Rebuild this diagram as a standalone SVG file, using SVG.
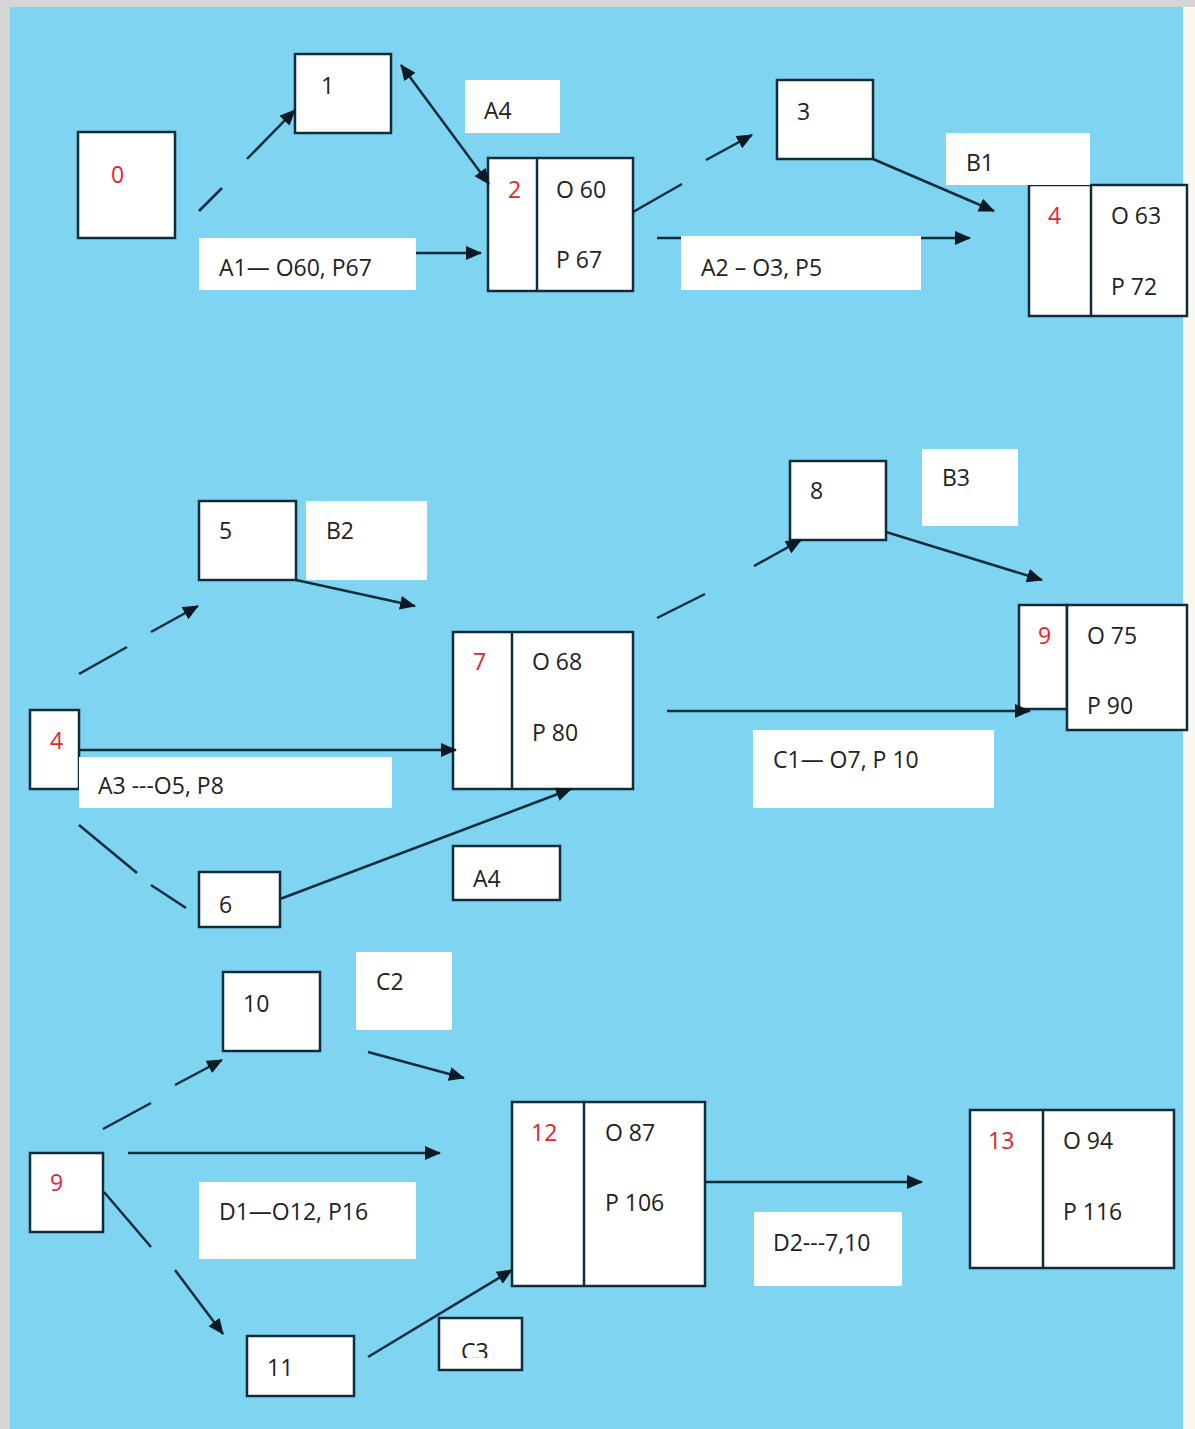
<svg xmlns="http://www.w3.org/2000/svg" width="1195" height="1429" viewBox="0 0 1195 1429">
<style>
.bg{fill:#7fd5f1}
.box{fill:#ffffff;stroke:#0e2c3b;stroke-width:2.5}
.lbl{fill:#ffffff}
.lblb{fill:#ffffff;stroke:#0e2c3b;stroke-width:2.5}
.t{font-family:"Open Sans","Liberation Sans",sans-serif;font-size:23px;fill:#222222}
.r{font-family:"Open Sans","Liberation Sans",sans-serif;font-size:23px;fill:#e8232b}
.c{fill:none;stroke:#0e2c3b;stroke-width:2.5}
</style>
<defs>
<marker id="arr" markerUnits="userSpaceOnUse" markerWidth="16" markerHeight="14" refX="15" refY="7" orient="auto-start-reverse">
<path d="M0,0 L16,7 L0,14 z" fill="#0b1a24"/>
</marker>
<clipPath id="c3clip"><rect x="430" y="1310" width="100" height="48"/></clipPath>
</defs>
<rect x="0" y="0" width="1195" height="1429" fill="#d6d6d6"/>
<rect x="1183" y="7" width="12" height="1422" fill="#fbf8ef"/>
<rect class="bg" x="10" y="7" width="1173" height="1422"/>

<g id="node-0"><rect class="box" x="78" y="132" width="97" height="106"/><text class="r" x="111" y="183">0</text></g>
<g id="node-1"><rect class="box" x="295" y="54" width="96" height="79"/><text class="t" x="321" y="94">1</text></g>
<g id="node-2"><rect class="box" x="488" y="158" width="145" height="133"/><line class="c" x1="537" y1="158" x2="537" y2="291"/><text class="r" x="508" y="198">2</text><text class="t" x="556" y="198">O 60</text><text class="t" x="556" y="268">P 67</text></g>
<g id="node-3"><rect class="box" x="777" y="80" width="96" height="79"/><text class="t" x="797" y="120">3</text></g>
<g id="node-4a"><rect class="box" x="1029" y="185" width="158" height="131"/><line class="c" x1="1091" y1="185" x2="1091" y2="316"/><text class="r" x="1048" y="224">4</text><text class="t" x="1111" y="224">O 63</text><text class="t" x="1111" y="295">P 72</text></g>

<g id="node-5"><rect class="box" x="199" y="501" width="97" height="79"/><text class="t" x="219" y="539">5</text></g>
<g id="node-4b"><rect class="box" x="30" y="710" width="49" height="79"/><text class="r" x="50" y="749">4</text></g>
<g id="node-6"><rect class="box" x="199" y="872" width="81" height="55"/><text class="t" x="219" y="913">6</text></g>
<g id="node-7"><rect class="box" x="453" y="632" width="180" height="157"/><line class="c" x1="512" y1="632" x2="512" y2="789"/><text class="r" x="473" y="670">7</text><text class="t" x="532" y="670">O 68</text><text class="t" x="532" y="741">P 80</text></g>
<g id="node-8"><rect class="box" x="790" y="461" width="96" height="79"/><text class="t" x="810" y="499">8</text></g>
<g id="node-9a"><rect class="box" x="1019" y="605" width="48" height="104"/><rect class="box" x="1067" y="605" width="120" height="125"/><text class="r" x="1038" y="644">9</text><text class="t" x="1087" y="644">O 75</text><text class="t" x="1087" y="714">P 90</text></g>

<g id="node-10"><rect class="box" x="223" y="972" width="97" height="79"/><text class="t" x="243" y="1012">10</text></g>
<g id="node-9b"><rect class="box" x="30" y="1153" width="73" height="79"/><text class="r" x="50" y="1191">9</text></g>
<g id="node-11"><rect class="box" x="247" y="1336" width="107" height="60"/><text class="t" x="267" y="1376">11</text></g>
<g id="node-12"><rect class="box" x="512" y="1102" width="193" height="184"/><line class="c" x1="584" y1="1102" x2="584" y2="1286"/><text class="r" x="531" y="1141">12</text><text class="t" x="605" y="1141">O 87</text><text class="t" x="605" y="1211">P 106</text></g>
<g id="node-13"><rect class="box" x="970" y="1110" width="204" height="158"/><line class="c" x1="1043" y1="1110" x2="1043" y2="1268"/><text class="r" x="988" y="1149">13</text><text class="t" x="1063" y="1149">O 94</text><text class="t" x="1063" y="1220">P 116</text></g>

<g id="connectors">
<path class="c" d="M199,211 L222,188 M247,159 L295,110" marker-end="url(#arr)"/>
<path class="c" d="M401,65 L489,184" marker-start="url(#arr)" marker-end="url(#arr)"/>
<path class="c" d="M416,253 L481,253" marker-end="url(#arr)"/>
<path class="c" d="M633,212 L682,184 M706,160 L752,135" marker-end="url(#arr)"/>
<path class="c" d="M657,238 L970,238" marker-end="url(#arr)"/>
<path class="c" d="M873,159 L994,211" marker-end="url(#arr)"/>
<path class="c" d="M79,674 L127,647 M151,632 L198,606" marker-end="url(#arr)"/>
<path class="c" d="M296,580 L415,606" marker-end="url(#arr)"/>
<path class="c" d="M79,750 L456,750" marker-end="url(#arr)"/>
<path class="c" d="M79,825 L137,873 M151,885 L186,908"/>
<path class="c" d="M280,899 L571,789" marker-end="url(#arr)"/>
<path class="c" d="M657,618 L705,594 M754,566 L801,540" marker-end="url(#arr)"/>
<path class="c" d="M886,532 L1042,580" marker-end="url(#arr)"/>
<path class="c" d="M667,711 L1030,711" marker-end="url(#arr)"/>
<path class="c" d="M103,1129 L151,1103 M175,1085 L222,1060" marker-end="url(#arr)"/>
<path class="c" d="M368,1052 L464,1078" marker-end="url(#arr)"/>
<path class="c" d="M128,1153 L440,1153" marker-end="url(#arr)"/>
<path class="c" d="M104,1192 L151,1247 M175,1270 L223,1334" marker-end="url(#arr)"/>
<path class="c" d="M368,1357 L512,1270" marker-end="url(#arr)"/>
<path class="c" d="M705,1182 L922,1182" marker-end="url(#arr)"/>
</g>

<g id="label-A4-top"><rect class="lbl" x="465" y="80" width="95" height="53"/><text class="t" x="484" y="119">A4</text></g>
<g id="label-A1"><rect class="lbl" x="199" y="238" width="217" height="52"/><text class="t" x="219" y="276">A1— O60, P67</text></g>
<g id="label-A2"><rect class="lbl" x="681" y="236" width="240" height="54"/><text class="t" x="701" y="276">A2 – O3, P5</text></g>
<g id="label-B1"><rect class="lbl" x="946" y="133" width="144" height="52"/><text class="t" x="966" y="171">B1</text></g>
<g id="label-B2"><rect class="lbl" x="306" y="501" width="121" height="79"/><text class="t" x="326" y="539">B2</text></g>
<g id="label-A3"><rect class="lbl" x="79" y="757" width="313" height="51"/><text class="t" x="98" y="794">A3 ---O5, P8</text></g>
<g id="label-A4-mid"><rect class="lblb" x="453" y="846" width="107" height="54"/><text class="t" x="473" y="887">A4</text></g>
<g id="label-B3"><rect class="lbl" x="922" y="449" width="96" height="77"/><text class="t" x="942" y="486">B3</text></g>
<g id="label-C1"><rect class="lbl" x="753" y="730" width="241" height="78"/><text class="t" x="773" y="768">C1— O7, P 10</text></g>
<g id="label-C2"><rect class="lbl" x="356" y="952" width="96" height="78"/><text class="t" x="376" y="990">C2</text></g>
<g id="label-D1"><rect class="lbl" x="199" y="1182" width="217" height="77"/><text class="t" x="219" y="1220">D1—O12, P16</text></g>
<g id="label-C3"><rect class="lblb" x="439" y="1318" width="83" height="52"/><text class="t" x="461" y="1360" clip-path="url(#c3clip)">C3</text></g>
<g id="label-D2"><rect class="lbl" x="754" y="1212" width="148" height="74"/><text class="t" x="773" y="1251">D2---7,10</text></g>
</svg>
